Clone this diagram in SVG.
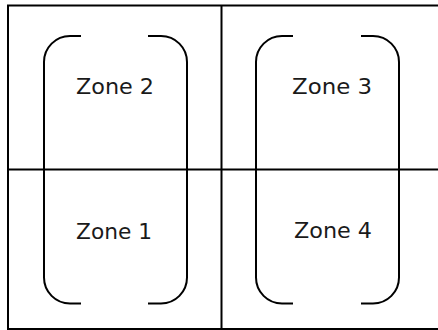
<svg xmlns="http://www.w3.org/2000/svg" width="438" height="330" viewBox="0 0 438 330">
<style>
.frame{fill:none;stroke:#000;stroke-width:2}
.bracket{fill:none;stroke:#000;stroke-width:2;stroke-linecap:butt}
.label{font-family:"DejaVu Sans","Liberation Sans",sans-serif;font-size:21px;fill:#1a1a1a}
</style>
<rect width="438" height="330" fill="#fff"/>
<g id="grid">
<rect class="frame" x="8" y="5.5" width="440" height="323.5"/>
<line class="frame" x1="221.5" y1="5" x2="221.5" y2="329"/>
<line class="frame" x1="8" y1="169.5" x2="438" y2="169.5"/>
</g>
<g id="zone-pair-left">
<path class="bracket" d="M81,36 H70 A26,26 0 0 0 44,62 V277.5 A26,26 0 0 0 70,303.5 H81"/>
<path class="bracket" d="M148,36 H161 A26,26 0 0 1 187,62 V277.5 A26,26 0 0 1 161,303.5 H148"/>
</g>
<g id="zone-pair-right">
<path class="bracket" d="M293,36 H282 A26,26 0 0 0 256,62 V277.5 A26,26 0 0 0 282,303.5 H293"/>
<path class="bracket" d="M361,36 H373 A26,26 0 0 1 399,62 V277.5 A26,26 0 0 1 373,303.5 H361"/>
</g>
<g id="zone2"><text class="label" x="76" y="94.3" textLength="78" lengthAdjust="spacingAndGlyphs">Zone 2</text></g>
<g id="zone1"><text class="label" x="76" y="238.5" textLength="76" lengthAdjust="spacingAndGlyphs">Zone 1</text></g>
<g id="zone3"><text class="label" x="292" y="94.3" textLength="80" lengthAdjust="spacingAndGlyphs">Zone 3</text></g>
<g id="zone4"><text class="label" x="294" y="238.3" textLength="78" lengthAdjust="spacingAndGlyphs">Zone 4</text></g>
<g id="connectors"/>
</svg>
